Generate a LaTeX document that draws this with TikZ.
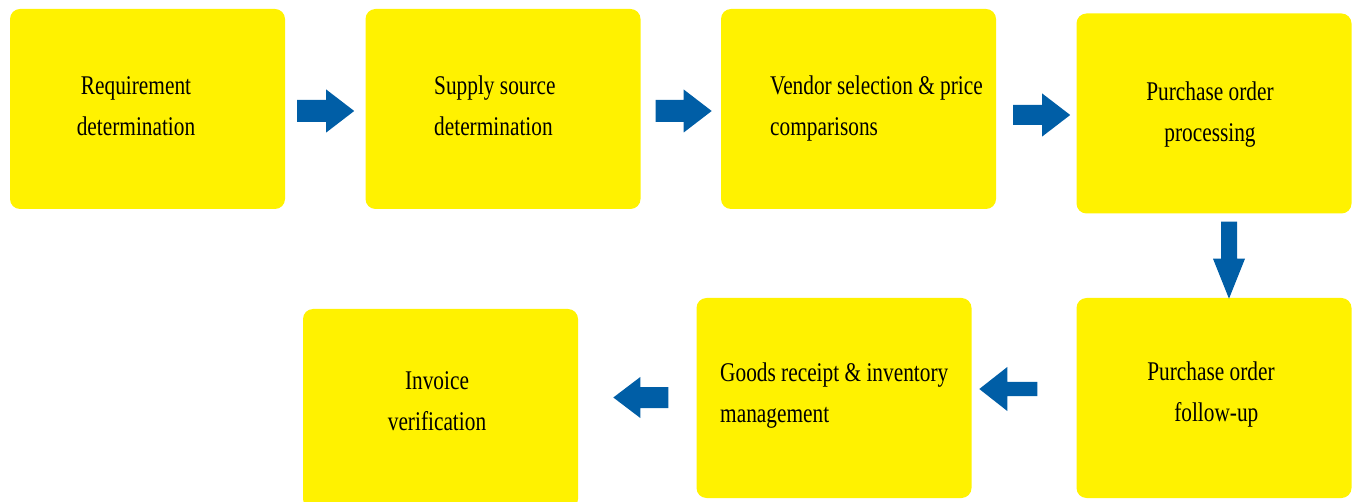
\documentclass[tikz,border=0pt]{standalone}
\usepackage{fontspec}
\setmainfont{Liberation Serif}[FakeStretch=0.79]
\usetikzlibrary{calc}
\definecolor{boxyellow}{RGB}{255,242,0}
\definecolor{arrowblue}{RGB}{0,94,166}
\tikzset{
  box/.style={fill=boxyellow, rounded corners=10pt, minimum width=275pt, minimum height=200pt, inner sep=0pt},
  lbl/.style={font=\fontsize{27pt}{41pt}\selectfont, text=black, inner sep=0pt},
  pics/blockarrow/.style n args={4}{code={
    \fill[arrowblue] (0,#2/2) -- ({#1-#4},#2/2) -- ({#1-#4},#3/2) -- (#1,0)
      -- ({#1-#4},-#3/2) -- ({#1-#4},-#2/2) -- (0,-#2/2) -- cycle;
  }}
}
\begin{document}
\begin{tikzpicture}[x=1pt,y=-1pt]
\useasboundingbox (0,0) rectangle (1357,502);
% boxes
\node[box] (b1) at (147.5,109) {};
\node[box] (b2) at (503,109) {};
\node[box] (b3) at (858.5,109) {};
\node[box] (b4) at (1214,113.5) {};
\node[box] (b5) at (1214,398) {};
\node[box] (b6) at (834,398) {};
\node[box] (b7) at (440.5,409) {};
% texts
\node[lbl, align=center] (t1) at (136,106) {Requirement\\determination};
\node[lbl, align=left, anchor=west] (t2) at (434,106) {Supply source\\determination};
\node[lbl, align=left, anchor=west] (t3) at (770,109) {Vendor selection \& price\\comparisons};
\node[lbl, align=center] (t4) at (1210,114.5) {Purchase order\\processing};
\node[lbl, align=center] (t5) at (1211,395) {Purchase order\\\ \ follow-up};
\node[lbl, align=left, anchor=west] (t6) at (720,396) {Goods receipt \& inventory\\management};
\node[lbl, align=center] (t7) at (437,401) {Invoice\\verification};
% block arrows
\pic at ($(b1.east)+(12,2)$) {blockarrow={57}{22}{43}{28}};
\pic at ($(b2.east)+(15,2)$) {blockarrow={56}{22}{43}{28}};
\pic at ($(b3.east)+(17,6)$) {blockarrow={57}{20}{43}{28}};
\pic[rotate=-90] at ($(b4.south)+(15,8)$) {blockarrow={77}{16}{32}{40}};
\pic[rotate=180] at ($(b5.west)+(-39,-9)$) {blockarrow={58}{14}{44}{28}};
\pic[rotate=180] at ($(b6.west)+(-28,-0.5)$) {blockarrow={55}{21}{41}{27}};
\end{tikzpicture}
\end{document}
